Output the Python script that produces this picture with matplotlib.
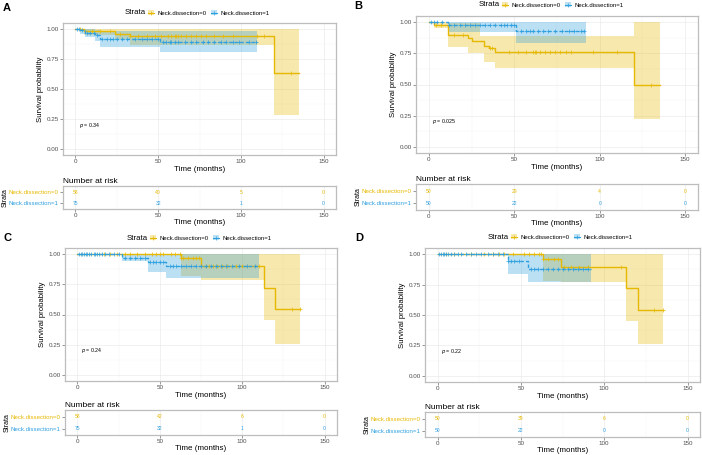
import numpy as np
import matplotlib.pyplot as plt
from matplotlib.patches import Patch
from matplotlib.lines import Line2D

plt.rcParams['font.family'] = ['Liberation Sans', 'DejaVu Sans']

YEL = '#E7B800'
BLU = '#2E9FDF'
W, H = 702, 455

GROUPS = ['Neck.dissection=0', 'Neck.dissection=1']
RISK_TIMES = [0, 50, 100, 150]

# ---- panel A ----
A0_T = [0, 5, 24, 33, 120, 135]
A0_S = [1.0, 0.98, 0.96, 0.94, 0.63, 0.63]
A0_LO = [1.0, 0.95, 0.92, 0.87, 0.28, 0.28]
A0_HI = [1.0, 1.0, 1.0, 1.0, 1.0, 1.0]
A0_C = [3, 10, 15, 21, 27, 33, 38, 43, 48, 52, 56, 58, 60, 61, 62, 64, 67, 70,
        73, 76, 79, 84, 89, 95, 110, 114, 130]
A1_T = [0, 3, 6, 12, 15, 51, 110]
A1_S = [1.0, 0.99, 0.97, 0.95, 0.92, 0.89, 0.89]
A1_LO = [1.0, 0.96, 0.93, 0.90, 0.85, 0.81, 0.81]
A1_HI = [1.0, 1.0, 1.0, 0.99, 0.98, 0.98, 0.98]
A1_C = [1, 2, 4, 7, 9, 11, 13, 16, 19, 21, 23, 25, 28, 31, 36, 40, 43, 46, 50,
        53, 55, 57, 58, 60, 62, 66, 70, 73, 77, 80, 84, 88, 91, 95, 99, 105, 109]
A_RISK0 = [58, 40, 5, 0]
A_RISK1 = [75, 32, 1, 0]
A_P = '0.34'

# ---- panel B ----
B0_T = [0, 3, 11, 23, 25, 30, 32, 35, 39, 120, 135]
B0_S = [1.0, 0.98, 0.90, 0.87, 0.85, 0.85, 0.81, 0.79, 0.76, 0.50, 0.50]
B0_LO = [1.0, 0.95, 0.80, 0.75, 0.75, 0.75, 0.68, 0.68, 0.63, 0.22, 0.22]
B0_HI = [1.0, 1.0, 0.99, 0.99, 0.99, 0.89, 0.89, 0.89, 0.89, 1.0, 1.0]
B0_C = [4, 7, 15, 20, 36, 37, 47, 52, 57, 61, 62, 63, 65, 68, 71, 74, 77, 80,
        83, 96, 110, 130]
B1_T = [0, 11, 51, 92]
B1_S = [1.0, 0.98, 0.93, 0.93]
B1_LO = [1.0, 0.92, 0.83, 0.83]
B1_HI = [1.0, 1.0, 1.0, 1.0]
B1_C = [1, 3, 5, 8, 12, 15, 18, 21, 24, 27, 30, 33, 36, 39, 42, 44, 46, 48, 50,
        54, 57, 59, 61, 64, 67, 70, 74, 78, 82, 85, 89, 91]
B_RISK0 = [50, 29, 4, 0]
B_RISK1 = [50, 22, 0, 0]
B_P = '0.025'

# ---- panel C ----
C0_T = [0, 63, 75, 113, 120, 135]
C0_S = [1.0, 0.965, 0.90, 0.72, 0.545, 0.545]
C0_LO = [1.0, 0.82, 0.785, 0.455, 0.26, 0.26]
C0_HI = [1.0, 1.0, 1.0, 1.0, 1.0, 1.0]
C0_C = [16, 20, 24, 29, 32, 36, 41, 45, 48, 50, 52, 57, 59, 62, 63, 64, 67, 70,
        72, 74, 78, 80, 82, 85, 88, 91, 96, 100, 110, 130, 135]
C1_T = [0, 27, 43, 54, 110]
C1_S = [1.0, 0.97, 0.935, 0.90, 0.90]
C1_LO = [1.0, 0.94, 0.85, 0.80, 0.80]
C1_HI = [1.0, 1.0, 1.0, 1.0, 1.0]
C1_C = [1, 2, 3, 4, 5, 6, 7, 8, 10, 11, 12, 13, 15, 17, 19, 22, 25, 29, 32, 35,
        38, 41, 44, 46, 48, 50, 52, 56, 58, 60, 63, 66, 69, 72, 75, 78, 81, 84,
        87, 90, 94, 98, 103, 108]
C_RISK0 = [58, 42, 6, 0]
C_RISK1 = [75, 32, 1, 0]
C_P = '0.24'

# ---- panel D ----
D0_T = [0, 63, 74, 113, 120, 135]
D0_S = [1.0, 0.96, 0.89, 0.72, 0.54, 0.54]
D0_LO = [1.0, 0.78, 0.77, 0.45, 0.26, 0.26]
D0_HI = [1.0, 1.0, 1.0, 1.0, 1.0, 1.0]
D0_C = [5, 10, 20, 28, 33, 37, 40, 45, 52, 55, 58, 61, 62, 63, 66, 70, 72, 76,
        80, 85, 90, 110, 130, 135]
D1_T = [0, 42, 54, 92]
D1_S = [1.0, 0.94, 0.88, 0.88]
D1_LO = [1.0, 0.84, 0.77, 0.77]
D1_HI = [1.0, 1.0, 1.0, 1.0]
D1_C = [1, 2, 3, 4, 5, 6, 8, 10, 12, 14, 17, 20, 23, 26, 30, 33, 36, 39, 42,
        44, 46, 49, 56, 58, 60, 63, 66, 69, 72, 75, 78, 81, 84, 87, 90]
D_RISK0 = [50, 39, 6, 0]
D_RISK1 = [50, 22, 0, 0]
D_P = '0.22'

panels = [
    dict(letter='A', g0=(A0_T, A0_S, A0_LO, A0_HI, A0_C), g1=(A1_T, A1_S, A1_LO, A1_HI, A1_C),
         risk=(A_RISK0, A_RISK1), p=A_P,
         main=(63, 23, 336, 155), tab=(63, 186, 336, 209), lab=(7, 8), leg=(125, 13)),
    dict(letter='B', g0=(B0_T, B0_S, B0_LO, B0_HI, B0_C), g1=(B1_T, B1_S, B1_LO, B1_HI, B1_C),
         risk=(B_RISK0, B_RISK1), p=B_P,
         main=(416, 16, 698, 153), tab=(416, 184, 698, 210), lab=(358, 6), leg=(479, 5)),
    dict(letter='C', g0=(C0_T, C0_S, C0_LO, C0_HI, C0_C), g1=(C1_T, C1_S, C1_LO, C1_HI, C1_C),
         risk=(C_RISK0, C_RISK1), p=C_P,
         main=(65, 248, 337, 381), tab=(65, 410, 337, 435), lab=(7, 238), leg=(127, 238)),
    dict(letter='D', g0=(D0_T, D0_S, D0_LO, D0_HI, D0_C), g1=(D1_T, D1_S, D1_LO, D1_HI, D1_C),
         risk=(D_RISK0, D_RISK1), p=D_P,
         main=(425, 248, 700, 382), tab=(425, 412, 700, 437), lab=(359, 238), leg=(488, 237)),
]

fig = plt.figure(figsize=(W / 100, H / 100), dpi=100)


def px_axes(box):
    l, t, r, b = box
    return fig.add_axes([l / W, 1 - b / H, (r - l) / W, (b - t) / H])


def style(ax):
    for s in ax.spines.values():
        s.set_color('#BDBDBD')
        s.set_linewidth(0.9)
    ax.set_xlim(-7.5, 157.5)
    ax.set_xticks([0, 50, 100, 150])
    ax.set_xticks([25, 75, 125], minor=True)
    ax.grid(True, which='major', color='#EBEBEB', lw=0.5)
    ax.grid(True, which='minor', color='#F3F3F3', lw=0.3)
    ax.set_axisbelow(True)
    ax.tick_params(which='major', length=2, width=0.5, color='#6E6E6E',
                   labelsize=4.5, labelcolor='#4D4D4D', pad=1)
    ax.tick_params(which='minor', length=0)


def draw_group(ax, grp, color, ls):
    t, s, lo, hi, cens = grp
    ax.fill_between(t, lo, hi, step='post', color=color, alpha=0.32, lw=0)
    ax.step(t, s, where='post', color=color, lw=1.0, ls=ls)
    idx = np.searchsorted(t, cens, side='right') - 1
    ax.plot(cens, np.array(s)[idx], ls='none', marker='+', ms=2.5, mew=0.5, color=color)


for p in panels:
    ax = px_axes(p['main'])
    style(ax)
    ax.set_ylim(-0.05, 1.05)
    ax.set_yticks([0, 0.25, 0.5, 0.75, 1.0])
    ax.set_yticklabels(['0.00', '0.25', '0.50', '0.75', '1.00'])
    ax.set_yticks([0.125, 0.375, 0.625, 0.875], minor=True)
    draw_group(ax, p['g0'], YEL, '-')
    draw_group(ax, p['g1'], BLU, (0, (2.5, 1.5)))
    ax.text(2, 0.2, '$\\it{p}$ = ' + p['p'], fontsize=3.8, ha='left', va='center')
    ax.set_xlabel('Time (months)', fontsize=5.8, labelpad=1)
    ax.set_ylabel('Survival probability', fontsize=5.6, labelpad=2)

    # letter and legend
    fig.text(p['lab'][0] / W, 1 - p['lab'][1] / H, p['letter'], fontsize=8,
             fontweight='bold', ha='center', va='center')
    lx, ly = p['leg']
    fig.text(lx / W, 1 - ly / H, 'Strata', fontsize=5.6, ha='left', va='center')
    handles = [(Patch(facecolor=c, alpha=0.32, lw=0),
                Line2D([], [], color=c, lw=0.8, marker='+', ms=2.5, mew=0.5))
               for c in (YEL, BLU)]
    fig.legend(handles, GROUPS, loc='center left', ncol=2, frameon=False,
               bbox_to_anchor=((lx + 23) / W, 1 - ly / H), bbox_transform=fig.transFigure,
               fontsize=4.3, handlelength=1.0, handleheight=0.9, handletextpad=0.6,
               columnspacing=0.7, borderpad=0, borderaxespad=0)

    # risk table
    rt = px_axes(p['tab'])
    style(rt)
    rt.set_ylim(0.45, 2.6)
    rt.set_yticks([2, 1])
    rt.set_yticklabels(GROUPS, fontsize=4.4)
    rt.grid(False, axis='y')
    for lab, c in zip(rt.get_yticklabels(), (YEL, BLU)):
        lab.set_color(c)
    r0, r1 = p['risk']
    for x, n0, n1 in zip(RISK_TIMES, r0, r1):
        rt.text(x, 2, str(n0), color=YEL, fontsize=3.6, ha='center', va='center')
        rt.text(x, 1, str(n1), color=BLU, fontsize=3.6, ha='center', va='center')
    rt.set_title('Number at risk', loc='left', fontsize=6, pad=2.5)
    rt.set_xlabel('Time (months)', fontsize=5.8, labelpad=0.5)
    rt.set_ylabel('Strata', fontsize=5, labelpad=0.5)

fig.savefig('out.png', dpi=100)
